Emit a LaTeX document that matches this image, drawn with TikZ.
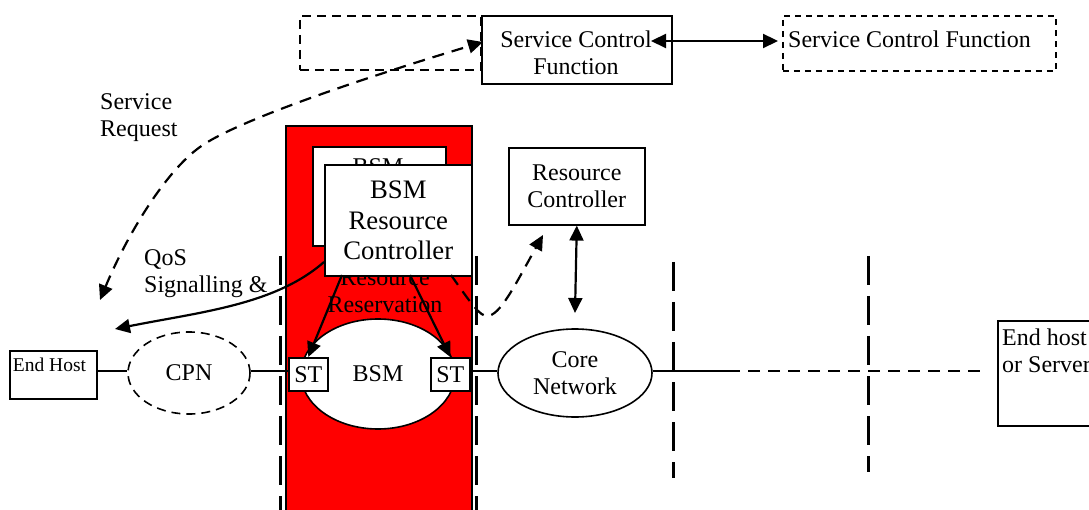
\documentclass[tikz,border=0pt]{standalone}
\usepackage{fontspec}
\setmainfont{Liberation Serif}
\usetikzlibrary{arrows.meta,shapes.geometric,calc}
\tikzset{
 tx/.style={font=\fontsize{24}{27}\selectfont},
 box/.style={draw=black,fill=white,line width=1.6pt,inner sep=0pt,align=center,anchor=north west},
 dbox/.style={box,fill=none,line width=1.7pt,dash pattern=on 9pt off 6pt},
 ell/.style={draw=black,fill=white,ellipse,line width=1.6pt,inner sep=0pt,align=center,anchor=center,tx},
 txt/.style={inner sep=0pt,align=left,tx},
 wire/.style={line width=2.2pt},
 fence/.style={line width=3pt,dash pattern=on 29pt off 11pt},
 dline/.style={line width=2.2pt,dash pattern=on 12pt off 8pt},
 tip/.style={-{Triangle[length=15pt,width=14pt]}},
 tips/.style={{Triangle[length=15pt,width=14pt]}-{Triangle[length=15pt,width=14pt]}}
}
\begin{document}
\begin{tikzpicture}[x=1pt,y=-1pt]
\useasboundingbox (0,0) rectangle (1089,510);
% red block
\node[box,fill=red,minimum width=186pt,minimum height=390pt] (red) at (285,125) {};
% fences
\coordinate (f1a) at (280,256); \coordinate (f1b) at (280,510);
\coordinate (f2a) at (476,256); \coordinate (f2b) at (476,510);
\coordinate (f3a) at (673,262); \coordinate (f3b) at (673,478);
\coordinate (f4a) at (868,256); \coordinate (f4b) at (868,472);
\draw[fence] (f1a) -- (f1b);
\draw[fence] (f2a) -- (f2b);
\draw[fence] (f3a) -- (f3b);
\draw[fence] (f4a) -- (f4b);
% top row
\node[dbox,minimum width=181pt,minimum height=54pt] (scfl) at (299,15) {};
\node[box,minimum width=190pt,minimum height=68pt] (scf) at (481,15) {};
\node[inner sep=0pt,align=center,tx] (scft) at (576,53) {Service Control\\Function};
\node[dbox,minimum width=273pt,minimum height=55pt,dash pattern=on 6pt off 5pt] (scfr) at (782,15) {};
\node[txt,anchor=west] (scfrt) at (788,39) {Service Control Function};
% back BSM box
\node[box,minimum width=133pt,minimum height=99pt] (back) at (312,146) {};
\node[tx,inner sep=0pt] (backt) at (378,167) {BSM};
% hidden text and ellipses
\node[tx,inner sep=0pt,align=center] (rr) at (385,291) {Resource\\Reservation};
\node[ell,minimum width=154pt,minimum height=110pt] (bsm) at (378,374) {BSM};
\node[ell,minimum width=154pt,minimum height=88pt] (core) at (575,373) {Core\\Network};
\node[ell,minimum width=122pt,minimum height=82pt,dash pattern=on 9pt off 6pt] (cpn) at (189,373) {CPN};
\node[box,minimum width=39pt,minimum height=33pt,tx] (stl) at (288,357) {ST};
\node[box,minimum width=39pt,minimum height=33pt,tx] (str) at (430,357) {ST};
% front BSM controller
\node[box,minimum width=147pt,minimum height=111pt,font=\fontsize{26.7}{30.5}\selectfont] (ctrl) at (324,164) {BSM\\Resource\\Controller};
\node[box,minimum width=136pt,minimum height=77pt,tx] (rc) at (508,147) {Resource\\Controller};
\node[box,minimum width=87pt,minimum height=48pt] (eh) at (9,350) {};
\node[inner sep=0pt,font=\fontsize{19.5}{22}\selectfont] (eht) at (49.5,365) {End Host};
\node[box,minimum width=100pt,minimum height=105pt] (srv) at (997,320) {};
\node[txt,anchor=west] (srvt) at (1002,351) {End host\\or Server};
% labels
\node[txt,anchor=west] (sr) at (100,118) {Service\\Request};
\node[txt,anchor=west] (qos) at (144,274) {QoS\\Signalling \&};
% wires
\draw[wire] (eh.east|-0,371) -- (cpn.west|-0,371);
\draw[wire] (cpn.east|-0,371) -- (stl.west|-0,371);
\draw[wire] (str.east|-0,371) -- (core.west|-0,371);
\coordinate (solidend) at (728,371);
\coordinate (dashend) at (987,371);
\draw[wire] (core.east|-0,371) -- (solidend);
\draw[dline] (solidend) -- (dashend);
\coordinate (scfin) at (651,41);
\coordinate (scfrin) at (778,41);
\draw[wire,tips] (scfin) -- (scfrin);
\coordinate (rcb) at (575,313);
\draw[wire,tips] (rc.south) -- (rcb);
\coordinate (cl) at (342,275);
\coordinate (cr) at (410,275);
\draw[wire,tip] (cl) -- (stl.north);
\draw[wire,tip] (cr) -- (str.north);
\coordinate (qa) at (115,329);
\draw[wire,tip] (ctrl.west|-0,262) .. controls (275,305) and (200,312) .. (qa);
\coordinate (sa) at (100,300);
\coordinate (sb) at (483,42);
\draw[dline,tips] (sa) .. controls (127,235) and (165,172) .. (200,147) .. controls (240,118) and (390,70) .. (sb);
\coordinate (ra) at (543,235);
\coordinate (rs) at (451,275);
\draw[dline,tip] (rs) .. controls (472,305) and (480,316) .. (487,316) .. controls (500,316) and (515,285) .. (ra);
\end{tikzpicture}
\end{document}
